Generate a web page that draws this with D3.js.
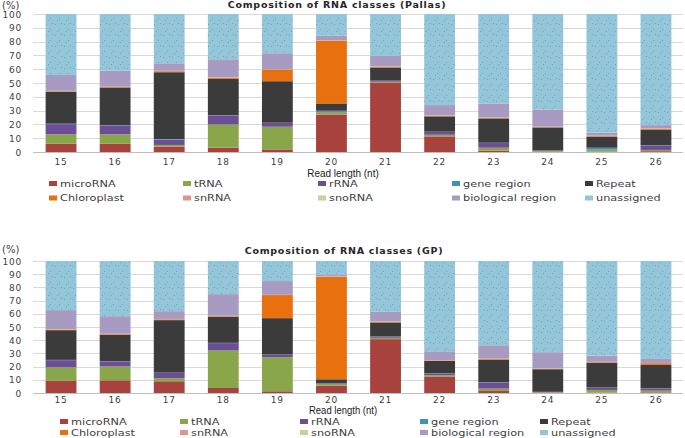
<!DOCTYPE html>
<html><head><meta charset="utf-8">
<script src="https://cdn.jsdelivr.net/npm/d3@7"></script>
<style>
body{margin:0;background:#fff;}
svg{display:block;}
</style></head>
<body>
<svg id="chart" width="685" height="438"></svg>
<script>
// ---------- DATA ----------
const readLengths = ["15","16","17","18","19","20","21","22","23","24","25","26"];
const rnaClasses = ["microRNA","tRNA","rRNA","gene region","Repeat","Chloroplast","snRNA","snoRNA","biological region","unassigned"];
const yTicks = [0,10,20,30,40,50,60,70,80,90,100];

// Pallas: one array per RNA class (stack order bottom→top), one value per read length
const pallasMicroRNA   = [6.0, 6.0, 3.9, 3.1, 1.9, 27.0, 50.4, 11.3, 1.0, 0.3, 0.3, 0.6];
const pallasTRNA       = [6.8, 6.8, 1.2, 16.9, 16.4, 1.7, 0.5, 1.2, 2.1, 0.4, 1.0, 0.9];
const pallasRRNA       = [7.4, 6.5, 3.9, 6.5, 2.7, 0.8, 0.7, 2.0, 3.4, 0.3, 0.5, 3.1];
const pallasGene       = [0.3, 0.2, 0.4, 0.2, 0.2, 0.4, 0.1, 0.2, 0.2, 0.1, 1.3, 0.2];
const pallasRepeat     = [23.2, 27.2, 48.4, 26.3, 30.1, 5.3, 9.5, 11.1, 17.6, 16.7, 8.0, 11.3];
const pallasChloro     = [0.3, 0.4, 0.7, 0.8, 8.5, 45.5, 0.5, 0.5, 0.5, 0.2, 0.4, 0.6];
const pallasSnRNA      = [0.2, 0.1, 0.2, 0.2, 0.1, 0.3, 0.2, 0.2, 0.2, 0.2, 0.2, 0.2];
const pallasSnoRNA     = [0.1, 0.1, 0.1, 0.1, 0.1, 0.1, 0.1, 0.1, 0.1, 0.1, 0.1, 0.1];
const pallasBio        = [11.5, 11.7, 5.5, 13.1, 11.6, 3.2, 7.6, 7.4, 10.1, 12.5, 2.2, 2.5];
const pallasUnassigned = [44.2, 41.0, 35.7, 32.8, 28.4, 15.7, 30.4, 66.0, 64.8, 69.2, 86.0, 80.5];

// GP
const gpMicroRNA   = [9.4, 9.6, 8.9, 3.8, 1.3, 5.6, 40.8, 12.2, 1.5, 0.3, 0.3, 0.5];
const gpTRNA       = [10.1, 10.5, 2.3, 28.4, 25.8, 1.2, 1.0, 1.2, 1.8, 0.3, 2.0, 1.3];
const gpRRNA       = [5.4, 3.8, 4.0, 5.6, 1.8, 0.6, 0.8, 1.3, 4.6, 0.2, 1.6, 1.5];
const gpGene       = [0.2, 0.2, 0.2, 0.2, 0.2, 0.2, 0.2, 0.2, 0.2, 0.1, 0.2, 0.2];
const gpRepeat     = [22.5, 20.0, 39.8, 19.7, 27.6, 2.8, 10.6, 9.4, 17.0, 17.1, 18.7, 17.8];
const gpChloro     = [0.5, 0.5, 0.6, 0.5, 17.5, 77.7, 0.5, 0.4, 0.6, 0.2, 0.5, 1.3];
const gpSnRNA      = [0.2, 0.2, 0.2, 0.2, 0.1, 0.3, 0.2, 0.2, 0.2, 0.2, 0.2, 0.1];
const gpSnoRNA     = [0.1, 0.1, 0.1, 0.1, 0.1, 0.1, 0.1, 0.1, 0.1, 0.1, 0.1, 0.1];
const gpBio        = [14.4, 13.3, 5.9, 16.4, 10.4, 0.9, 7.3, 6.6, 10.2, 12.4, 4.8, 3.0];
const gpUnassigned = [37.2, 41.8, 38.0, 25.1, 15.2, 10.6, 38.5, 68.4, 63.8, 69.1, 71.6, 74.2];

const pallasSeries = [pallasMicroRNA, pallasTRNA, pallasRRNA, pallasGene, pallasRepeat, pallasChloro, pallasSnRNA, pallasSnoRNA, pallasBio, pallasUnassigned];
const gpSeries = [gpMicroRNA, gpTRNA, gpRRNA, gpGene, gpRepeat, gpChloro, gpSnRNA, gpSnoRNA, gpBio, gpUnassigned];

// ---------- STYLE ----------
const classColors = ["#A8423D","#8AA64A","#6D4E96","#3A97AE","#3B3B3B","#E8700F","#D99694","#C0D59B","#A79BC2","#94C5D8"];

const svg = d3.select("#chart");
const defs = svg.append("defs");
const pat = defs.append("pattern").attr("id","dots").attr("patternUnits","userSpaceOnUse")
  .attr("width",9).attr("height",11);
pat.append("rect").attr("width",9).attr("height",11).attr("fill",classColors[9]);
[[1,2],[5,7],[7,1],[3,9]].forEach(p=>pat.append("rect").attr("x",p[0]).attr("y",p[1]).attr("width",1).attr("height",1).attr("fill","#3a9fb0").attr("opacity",0.6));

function drawChart(cfg){
  const g = svg.append("g");
  const x = d3.scaleBand().domain(readLengths).range([34,683]).paddingInner(0.43).paddingOuter(0.215);
  const y = d3.scaleLinear().domain([0,100]).range([cfg.y0, cfg.y100]);

  // gridlines
  g.append("g").selectAll("line").data(yTicks).join("line")
    .attr("x1",33).attr("x2",683)
    .attr("y1",d=>Math.round(y(d))+0.5).attr("y2",d=>Math.round(y(d))+0.5)
    .attr("stroke",d=>d===0?"#bfbfbf":"#d9d9d9").attr("stroke-width",1);

  // y labels
  g.append("g").selectAll("text").data(yTicks).join("text")
    .attr("x",22).attr("y",d=>y(d)+3.5).attr("text-anchor","end")
    .attr("font-family","DejaVu Sans").attr("font-size",9).attr("letter-spacing",0.8)
    .attr("fill","#404040").text(d=>d);

  g.append("text").attr("x",2).attr("y",cfg.pctY).attr("font-family","DejaVu Sans")
    .attr("font-size",10).attr("fill","#404040").text("(%)");

  g.append("text").attr("x",cfg.titleX).attr("y",cfg.titleY).attr("text-anchor","middle")
    .attr("font-family","DejaVu Sans").attr("font-weight","bold").attr("font-size",9.5)
    .attr("letter-spacing",0.75).attr("fill","#262626").text(cfg.title);

  // stacked bars
  const rows = readLengths.map((len,i)=>{
    const o = {len};
    rnaClasses.forEach((c,k)=>{ o[c] = cfg.series[k][i]; });
    return o;
  });
  const stacked = d3.stack().keys(rnaClasses)(rows);
  g.append("g").selectAll("g").data(stacked).join("g")
    .attr("fill",(d,k)=> k===9 ? "url(#dots)" : classColors[k])
    .selectAll("rect").data(d=>d).join("rect")
    .attr("x",d=>x(d.data.len)).attr("width",x.bandwidth())
    .attr("y",d=>y(Math.min(d[1],100))).attr("height",d=>Math.max(0,y(d[0])-y(Math.min(d[1],100))));

  // x labels
  g.append("g").selectAll("text").data(readLengths).join("text")
    .attr("x",d=>x(d)+x.bandwidth()/2).attr("y",cfg.xTickY).attr("text-anchor","middle")
    .attr("font-family","DejaVu Sans").attr("font-size",9).attr("letter-spacing",0.8)
    .attr("fill","#404040").text(d=>d);

  g.append("text").attr("transform",`translate(343,${cfg.xTitleY}) scale(0.95,1)`)
    .attr("text-anchor","middle")
    .attr("font-family","Liberation Sans")
    .attr("font-size",cfg.xTitleSize).attr("fill","#1a1a1a").text("Read length (nt)");

  // legend
  const lg = g.append("g").selectAll("g").data(rnaClasses).join("g")
    .attr("transform",(d,k)=>`translate(${cfg.legX[k%5]},${cfg.legY[Math.floor(k/5)]})`);
  lg.append("rect").attr("x",0).attr("y",-2.5).attr("width",8).attr("height",5)
    .attr("fill",(d,k)=>classColors[k]);
  lg.append("text").attr("transform","translate(11,3) scale(1.33,1)").attr("font-family","DejaVu Sans")
    .attr("font-size",8.5).attr("fill","#404040").text(d=>d);
}

drawChart({series:pallasSeries, title:"Composition of RNA classes (Pallas)", y0:152, y100:14,
  titleX:337, titleY:8, pctY:9, xTickY:164.5, xTitleY:176.5, xTitleSize:10.5,
  legX:[49,183,318,452,585], legY:[183.5,198]});
drawChart({series:gpSeries, title:"Composition of RNA classes (GP)", y0:393, y100:261,
  titleX:344, titleY:254, pctY:253, xTickY:403, xTitleY:414.3, xTitleSize:10,
  legX:[60,180,300,420,540], legY:[421.5,432.5]});
</script>
</body></html>
